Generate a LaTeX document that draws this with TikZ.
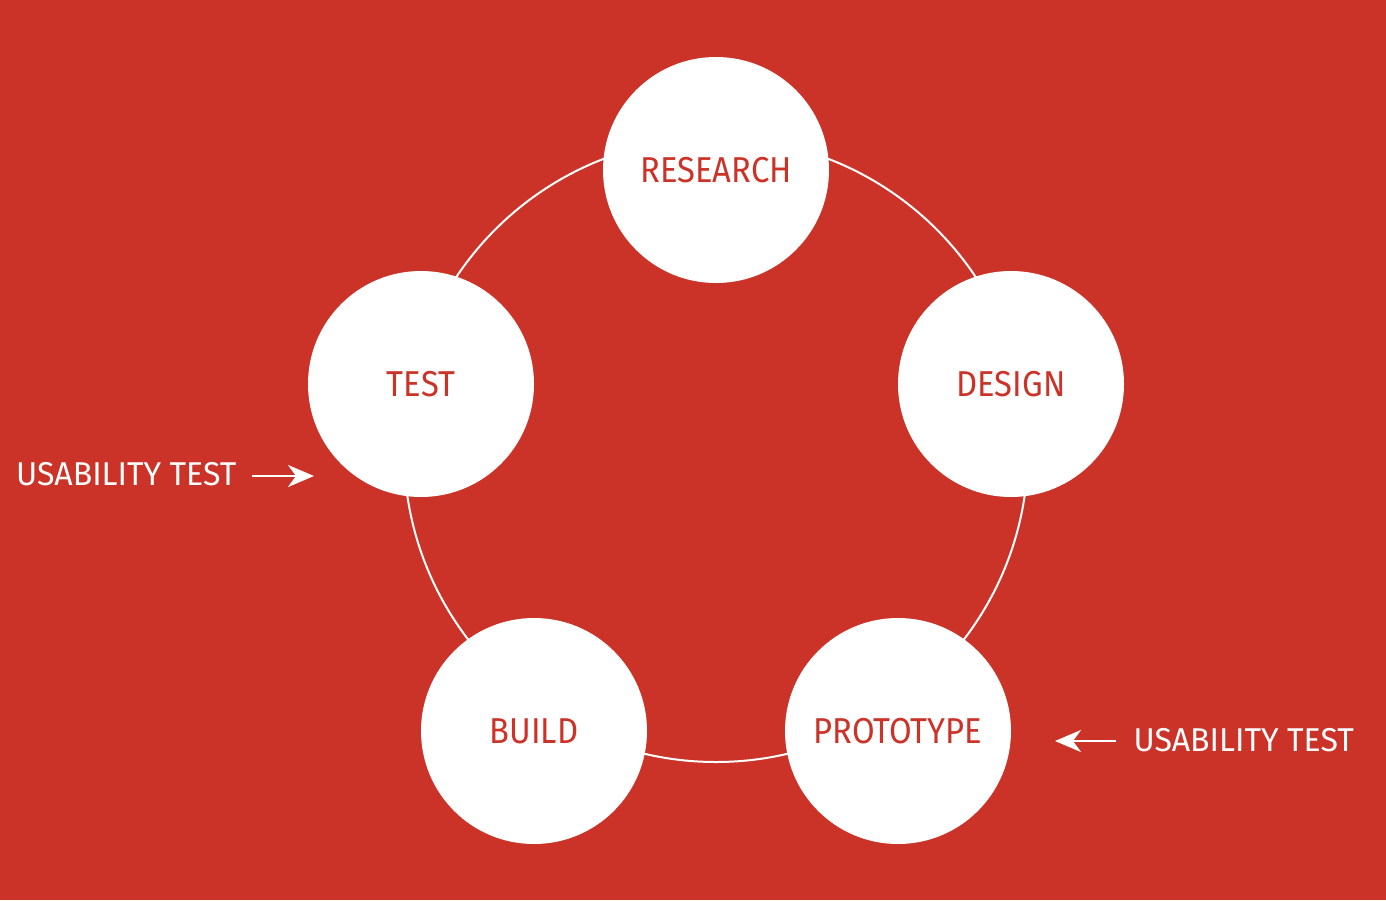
\documentclass[tikz,border=0pt]{standalone}
\usepackage{fontspec}
\setmainfont{Fira Sans}
\newfontfamily\stagefont[FakeStretch=0.91]{Fira Sans}
\newfontfamily\notefont[FakeStretch=0.97]{Fira Sans}
\usetikzlibrary{arrows.meta}
\definecolor{bg}{RGB}{204,51,40}
\begin{document}
\begin{tikzpicture}[x=1pt,y=-1pt,
  stage/.style={circle,fill=white,minimum size=226pt,inner sep=0pt,text=bg,font=\stagefont\fontsize{36}{40}\selectfont},
  note/.style={text=white,font=\notefont\fontsize{33}{36}\selectfont,inner sep=0pt},
  ring/.style={white,line width=2pt},
  ptr/.style={white,line width=2.5pt,-{Stealth[length=26pt,width=22pt,inset=8pt]}}]
\fill[bg] (0,0) rectangle (1386,900);
\useasboundingbox (0,0) rectangle (1386,900);
\coordinate (hub) at (716,450);
\draw[ring] (hub) circle (312);
\node[stage] (research) at (716,170) {RESEARCH};
\node[stage] (design) at (1011,384) {DESIGN};
\node[stage] (prototype) at (898,731) {PROTOTYPE};
\node[stage] (build) at (534,731) {BUILD};
\node[stage] (test) at (421,384) {TEST};
\node[note,anchor=west] (ut1) at (16,474) {USABILITY TEST};
\coordinate (t1) at (314,476);
\draw[ptr] (252,476) -- (t1);
\node[note,anchor=east] (ut2) at (1354,740) {USABILITY TEST};
\coordinate (t2) at (1055,741);
\draw[ptr] (1116,741) -- (t2);
\end{tikzpicture}
\end{document}
